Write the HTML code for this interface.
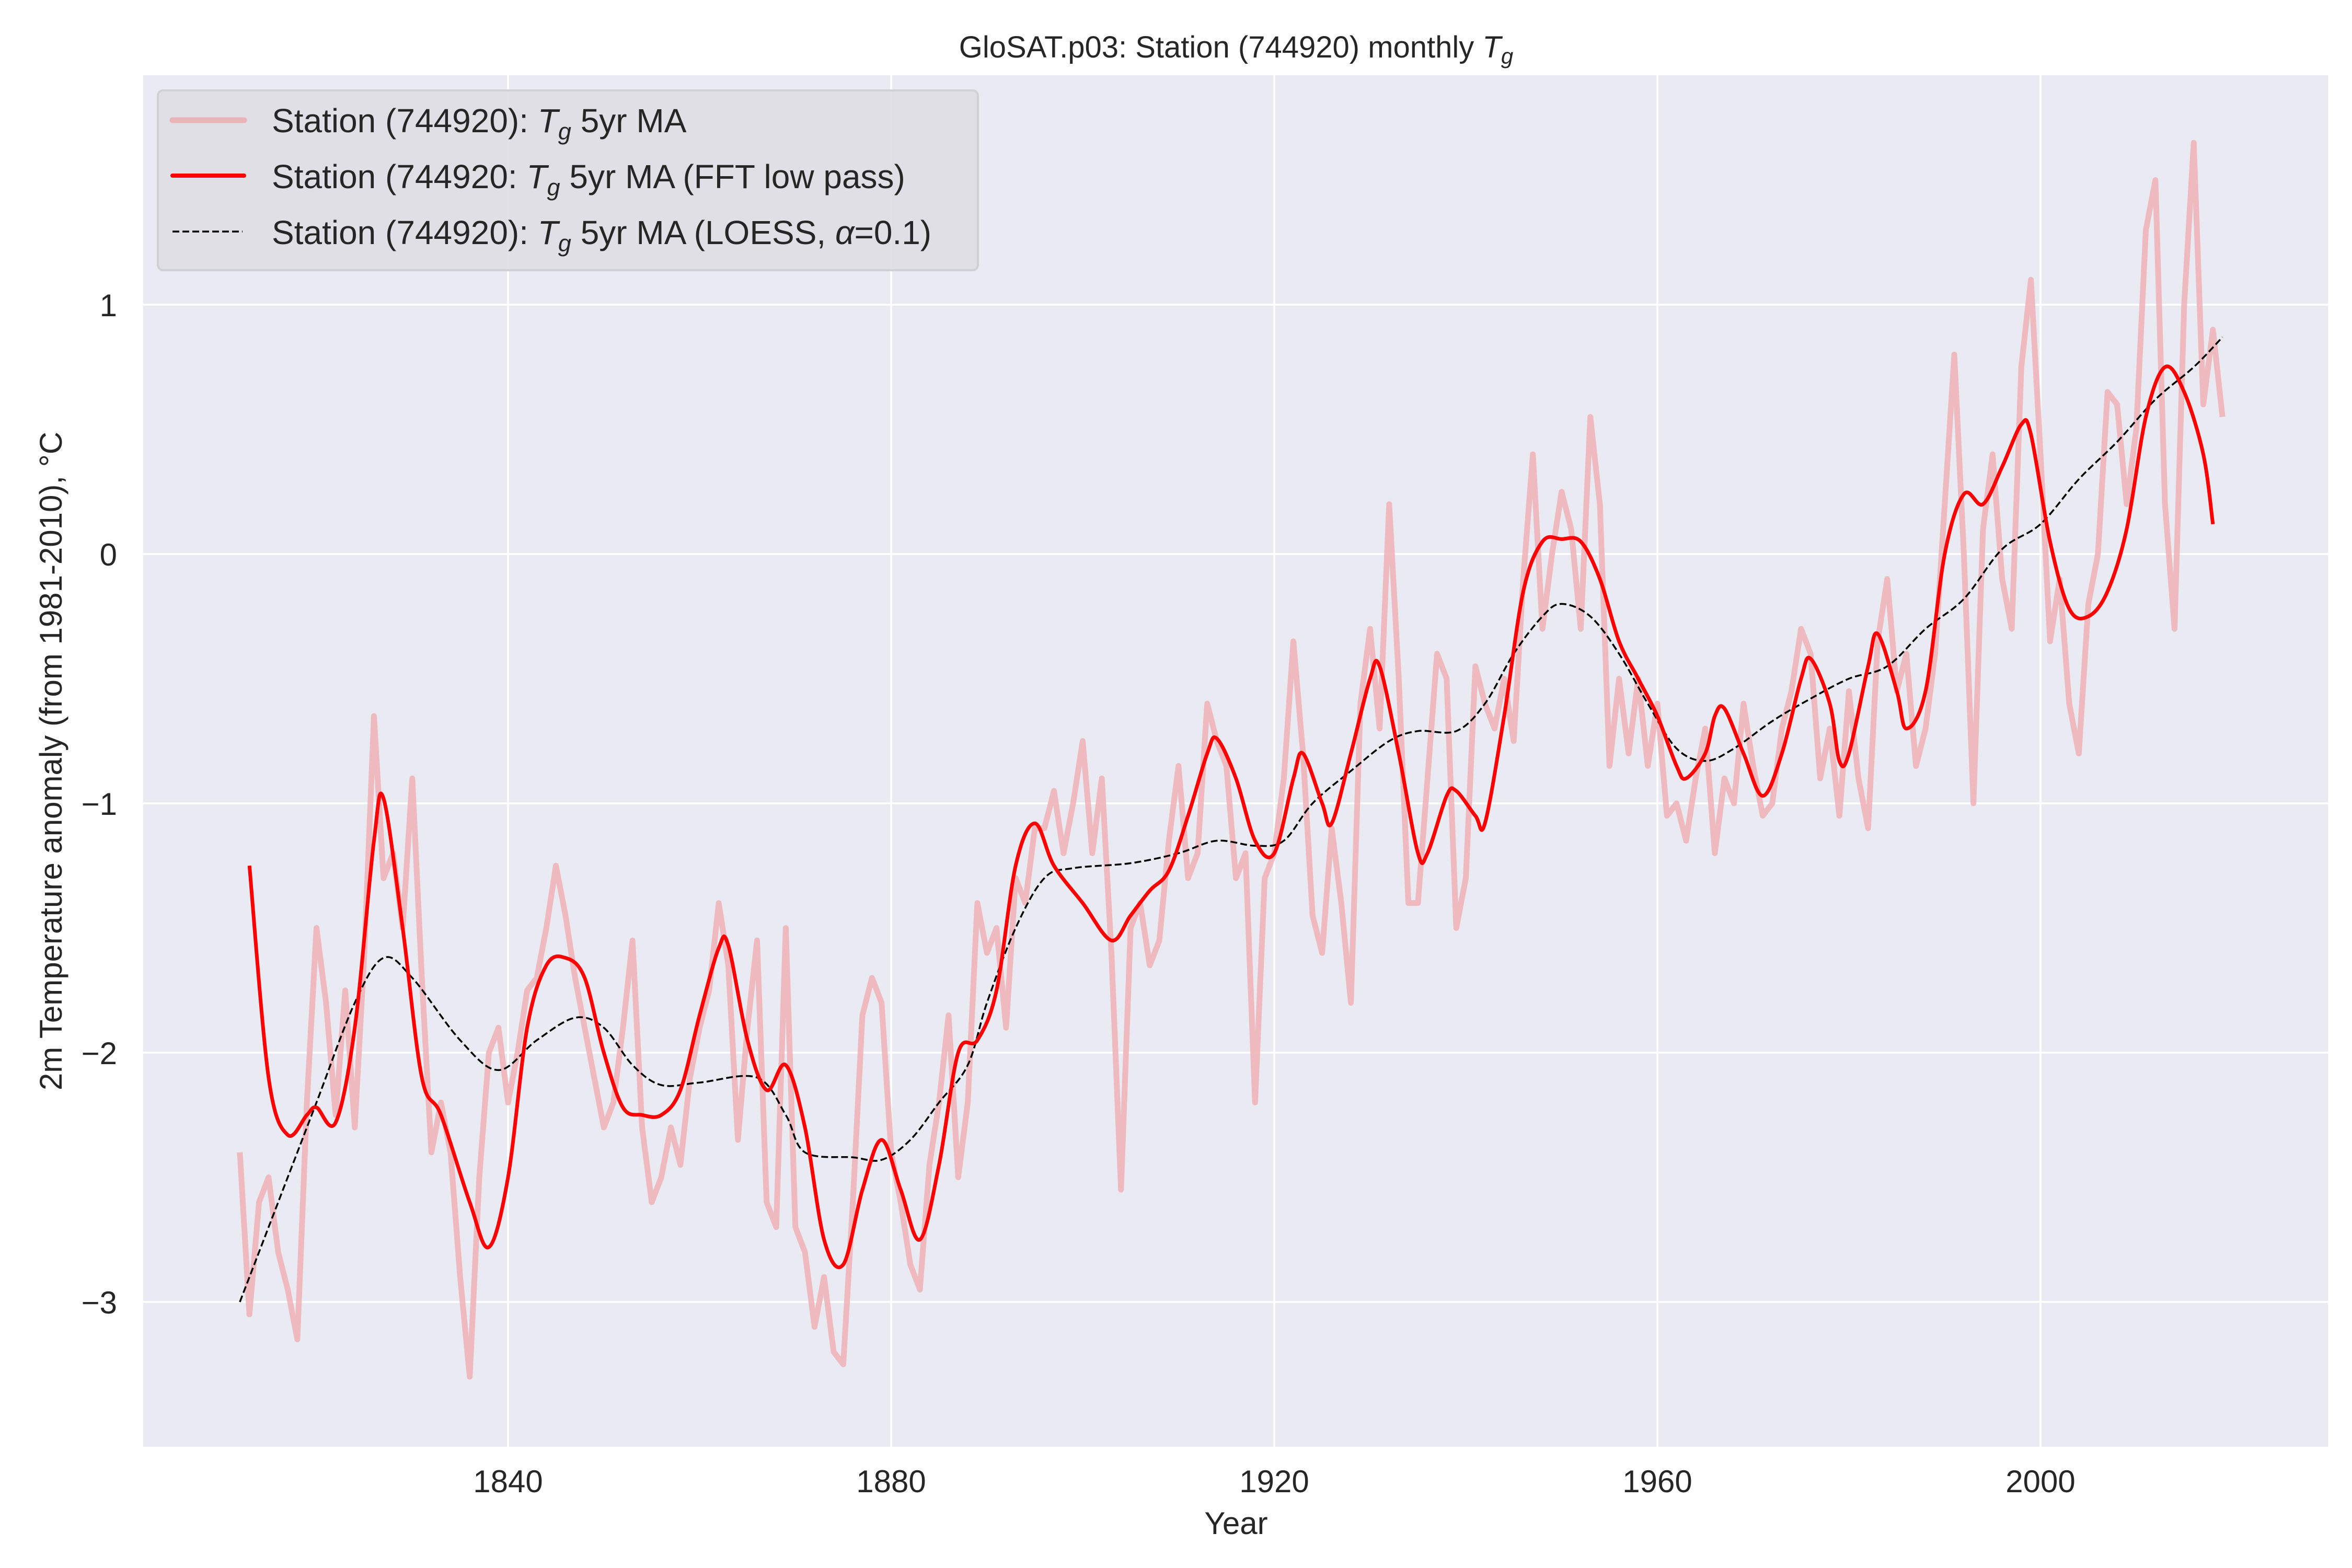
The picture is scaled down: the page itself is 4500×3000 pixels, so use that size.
<!DOCTYPE html>
<html><head><meta charset="utf-8"><style>
html,body{margin:0;padding:0;background:#fff}
svg{display:block;font-family:"Liberation Sans",sans-serif}
</style></head><body>
<svg id="chart" width="4500" height="3000" viewBox="0 0 4500 3000" xmlns="http://www.w3.org/2000/svg">
<rect x="274" y="144" width="4180" height="2624" fill="#eaeaf2"/>
<g id="grid"></g>
<g id="series"></g>
<g id="ticks" fill="#262626" font-size="60"></g>
<text x="2365" y="110" text-anchor="middle" font-size="58" fill="#262626">GloSAT.p03: Station (744920) monthly <tspan font-style="italic">T</tspan><tspan font-style="italic" font-size="42" dy="12">g</tspan></text>
<text x="2365" y="2935" text-anchor="middle" font-size="60" fill="#262626">Year</text>
<text transform="translate(118,1456) rotate(-90)" text-anchor="middle" font-size="60" fill="#262626">2m Temperature anomaly (from 1981-2010), °C</text>
<g>
<rect x="302" y="173" width="1569" height="344" rx="10" fill="#dedee3" fill-opacity="0.9" stroke="#d0d0d6" stroke-width="4"/>
<line x1="330" y1="230" x2="467" y2="230" stroke="#e8b4b8" stroke-width="11" stroke-linecap="round"/>
<text x="520" y="253" font-size="64" fill="#262626">Station (744920): <tspan font-style="italic">T</tspan><tspan font-style="italic" font-size="45" dy="14">g</tspan><tspan dy="-14"> 5yr MA</tspan></text>
<line x1="330" y1="336" x2="467" y2="336" stroke="#ff0000" stroke-width="8" stroke-linecap="round"/>
<text x="520" y="360" font-size="64" fill="#262626">Station (744920: <tspan font-style="italic">T</tspan><tspan font-style="italic" font-size="45" dy="14">g</tspan><tspan dy="-14"> 5yr MA (FFT low pass)</tspan></text>
<line x1="330" y1="443" x2="464" y2="443" stroke="#000" stroke-width="3.5" stroke-dasharray="13,6"/>
<text x="520" y="467" font-size="64" fill="#262626">Station (744920): <tspan font-style="italic">T</tspan><tspan font-style="italic" font-size="45" dy="14">g</tspan><tspan dy="-14"> 5yr MA (LOESS, </tspan><tspan font-style="italic">α</tspan>=0.1)</text>
</g>
</svg>
<script>
const xTicks=[1840,1880,1920,1960,2000];
const yTicks=[-3,-2,-1,0,1];
const maYears=[];for(let y=1812;y<=2019;y++)maYears.push(y);
const maValues=[-2.4,-3.05,-2.6,-2.5,-2.8,-2.95,-3.15,-2.2,-1.5,-1.8,-2.25,-1.75,-2.3,-1.6,-0.65,-1.3,-1.2,-1.5,-0.9,-1.7,-2.4,-2.2,-2.4,-2.9,-3.3,-2.5,-2.0,-1.9,-2.2,-2.0,-1.75,-1.7,-1.5,-1.25,-1.45,-1.7,-1.9,-2.1,-2.3,-2.2,-1.9,-1.55,-2.3,-2.6,-2.5,-2.3,-2.45,-2.1,-1.9,-1.75,-1.4,-1.65,-2.35,-1.9,-1.55,-2.6,-2.7,-1.5,-2.7,-2.8,-3.1,-2.9,-3.2,-3.25,-2.6,-1.85,-1.7,-1.8,-2.4,-2.6,-2.85,-2.95,-2.45,-2.2,-1.85,-2.5,-2.2,-1.4,-1.6,-1.5,-1.9,-1.3,-1.4,-1.1,-1.1,-0.95,-1.2,-1.0,-0.75,-1.2,-0.9,-1.6,-2.55,-1.5,-1.4,-1.65,-1.55,-1.15,-0.85,-1.3,-1.2,-0.6,-0.75,-0.85,-1.3,-1.2,-2.2,-1.3,-1.2,-0.9,-0.35,-0.8,-1.45,-1.6,-1.1,-1.4,-1.8,-0.6,-0.3,-0.7,0.2,-0.5,-1.4,-1.4,-0.9,-0.4,-0.5,-1.5,-1.3,-0.45,-0.6,-0.7,-0.5,-0.75,-0.1,0.4,-0.3,0.0,0.25,0.1,-0.3,0.55,0.2,-0.85,-0.5,-0.8,-0.5,-0.85,-0.6,-1.05,-1.0,-1.15,-0.9,-0.7,-1.2,-0.9,-1.0,-0.6,-0.85,-1.05,-1.0,-0.7,-0.55,-0.3,-0.4,-0.9,-0.7,-1.05,-0.55,-0.9,-1.1,-0.35,-0.1,-0.55,-0.4,-0.85,-0.7,-0.4,0.2,0.8,0.0,-1.0,0.1,0.4,-0.1,-0.3,0.75,1.1,0.4,-0.35,-0.1,-0.6,-0.8,-0.2,0.0,0.65,0.6,0.2,0.5,1.3,1.5,0.2,-0.3,1.0,1.65,0.6,0.9,0.55];
const fftYears=[1813,1815,1817,1819,1820,1822,1824,1826,1827,1829,1831,1833,1836,1838,1840,1842,1844,1846,1848,1850,1852,1854,1856,1858,1860,1862,1863,1865,1867,1869,1871,1873,1875,1877,1879,1881,1883,1885,1887,1889,1891,1893,1895,1897,1900,1903,1905,1907,1909,1911,1913,1914,1916,1918,1920,1922,1923,1925,1926,1928,1930,1931,1933,1935,1936,1938,1939,1941,1942,1944,1946,1948,1950,1952,1954,1956,1958,1960,1962,1963,1965,1966,1967,1969,1971,1973,1975,1976,1978,1979,1980,1982,1983,1985,1986,1988,1990,1992,1994,1996,1998,1999,2001,2003,2005,2007,2009,2011,2013,2015,2017,2018];
const fftValues=[-1.25,-2.1,-2.33,-2.25,-2.22,-2.28,-1.9,-1.15,-0.98,-1.5,-2.1,-2.25,-2.6,-2.78,-2.5,-1.9,-1.65,-1.62,-1.7,-2.0,-2.22,-2.25,-2.25,-2.15,-1.85,-1.58,-1.57,-1.95,-2.15,-2.05,-2.3,-2.75,-2.85,-2.55,-2.35,-2.55,-2.75,-2.45,-2.0,-1.95,-1.75,-1.25,-1.08,-1.25,-1.4,-1.55,-1.45,-1.35,-1.27,-1.05,-0.8,-0.74,-0.9,-1.15,-1.2,-0.9,-0.8,-1.0,-1.08,-0.8,-0.5,-0.45,-0.8,-1.2,-1.2,-0.97,-0.95,-1.05,-1.08,-0.65,-0.15,0.05,0.06,0.05,-0.1,-0.35,-0.5,-0.65,-0.85,-0.9,-0.8,-0.65,-0.62,-0.8,-0.97,-0.8,-0.5,-0.42,-0.6,-0.83,-0.8,-0.45,-0.32,-0.55,-0.7,-0.55,0.0,0.24,0.2,0.35,0.52,0.48,0.05,-0.22,-0.25,-0.15,0.1,0.55,0.75,0.65,0.4,0.12];
const loessYears=[1812,1816,1820,1824,1827,1830,1835,1839,1843,1847,1850,1853,1856,1860,1866,1869,1871,1876,1879,1882,1885,1888,1890,1893,1896,1899,1905,1910,1914,1918,1921,1924,1928,1932,1935,1939,1942,1945,1948,1950,1953,1956,1959,1962,1965,1968,1972,1976,1980,1984,1988,1992,1996,2000,2004,2008,2012,2016,2019];
const loessValues=[-3.0,-2.6,-2.2,-1.8,-1.62,-1.7,-1.95,-2.07,-1.95,-1.86,-1.9,-2.05,-2.13,-2.12,-2.1,-2.25,-2.4,-2.42,-2.43,-2.35,-2.2,-2.05,-1.8,-1.5,-1.3,-1.26,-1.24,-1.2,-1.15,-1.17,-1.15,-1.0,-0.87,-0.75,-0.71,-0.71,-0.6,-0.4,-0.25,-0.2,-0.25,-0.4,-0.6,-0.78,-0.83,-0.78,-0.67,-0.58,-0.5,-0.45,-0.3,-0.18,0.02,0.12,0.3,0.45,0.62,0.75,0.87];

const NS='http://www.w3.org/2000/svg';
const X=y=>972+(y-1840)*18.325;
const Y=v=>1060-v*477;
function mk(tag,attrs,parent){const e=document.createElementNS(NS,tag);for(const k in attrs)e.setAttribute(k,attrs[k]);parent.appendChild(e);return e;}
const grid=document.getElementById('grid'),ticks=document.getElementById('ticks'),series=document.getElementById('series');
xTicks.forEach(t=>{
  const l=mk('line',{x1:X(t),x2:X(t),y1:144,y2:2768,stroke:'#fff','stroke-width':3.5},grid);
  
  
  const tx=mk('text',{x:X(t),y:2855,'text-anchor':'middle'},ticks);
  tx.textContent=t;
  
  
});
yTicks.forEach(t=>{
  const l=mk('line',{x1:274,x2:4454,y1:Y(t),y2:Y(t),stroke:'#fff','stroke-width':3.5},grid);
  
  
  const tx=mk('text',{x:224,y:Y(t)+22,'text-anchor':'end'},ticks);
  tx.textContent=t<0?'\u2212'+Math.abs(t):String(t);
  
  
});
function linePath(xs,vs){return xs.map((x,i)=>(i?'L':'M')+X(x).toFixed(1)+','+Y(vs[i]).toFixed(1)).join('');}
function smoothPath(xs,vs){
  const p=xs.map((x,i)=>[X(x),Y(vs[i])]);
  let d='M'+p[0][0]+','+p[0][1];
  for(let i=0;i<p.length-1;i++){
    const p0=p[i-1]||p[i],p1=p[i],p2=p[i+1],p3=p[i+2]||p2;
    const c1=[p1[0]+(p2[0]-p0[0])/6,p1[1]+(p2[1]-p0[1])/6];
    const c2=[p2[0]-(p3[0]-p1[0])/6,p2[1]-(p3[1]-p1[1])/6];
    d+='C'+c1[0].toFixed(1)+','+c1[1].toFixed(1)+' '+c2[0].toFixed(1)+','+c2[1].toFixed(1)+' '+p2[0].toFixed(1)+','+p2[1].toFixed(1);
  }
  return d;
}
const ma=mk('path',{d:linePath(maYears,maValues),fill:'none',stroke:'#eeb0b6','stroke-opacity':0.85,'stroke-width':11,'stroke-linejoin':'round'},series);


const lo=mk('path',{d:smoothPath(loessYears,loessValues),fill:'none',stroke:'#000','stroke-width':3.5,'stroke-dasharray':'13,6'},series);


const ff=mk('path',{d:smoothPath(fftYears,fftValues),fill:'none',stroke:'#ff0000','stroke-width':7},series);


</script>
</body></html>
